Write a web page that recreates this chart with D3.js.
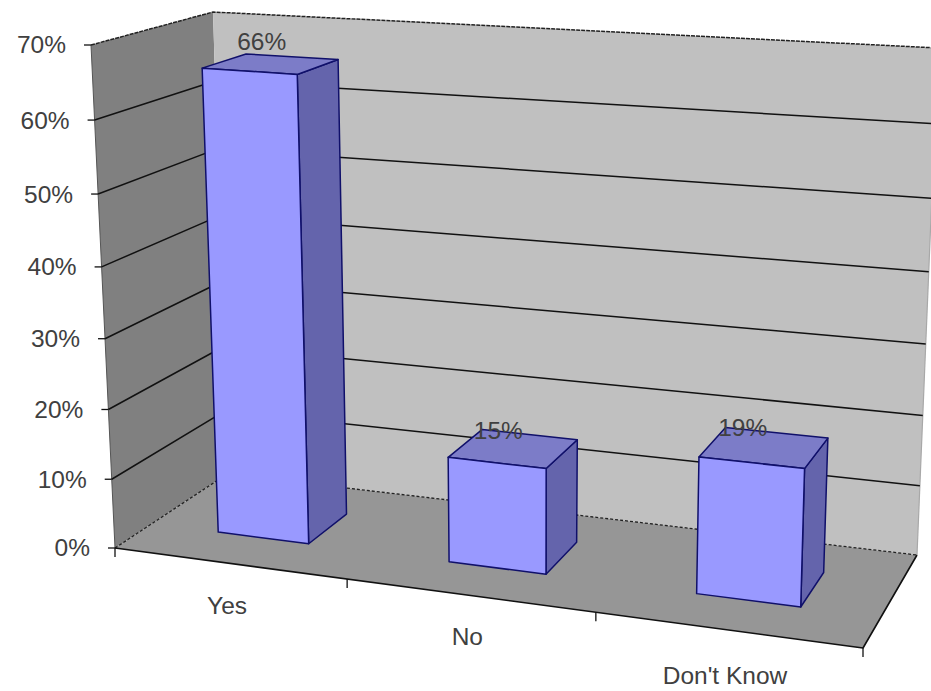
<!DOCTYPE html>
<html>
<head>
<meta charset="utf-8">
<script src="https://cdn.jsdelivr.net/npm/d3@7"></script>
<style>
  html, body { margin: 0; padding: 0; background: #fff; }
  svg { display: block; }
  text { font-family: "Liberation Sans", Arial, sans-serif; font-size: 24.5px; fill: #404040; }
</style>
</head>
<body>
<svg id="chart" width="931" height="691"></svg>
<script>
// Chart values
const categories = ['Yes', 'No', "Don't Know"];
const percents = [66, 15, 19];
const percentTicks = [0, 10, 20, 30, 40, 50, 60, 70];
const maxPercent = 70;

const svg = d3.select('#chart');

// Screen corners of the plot box, named by side: front/back, left/right, bottom/top
const box = {
  flb: [115, 548], frb: [863, 648], blb: [227, 474], brb: [917, 555],
  flt: [91, 45], frt: [881, 100], blt: [213, 12], brt: [938, 48],
};

// Perspective squeeze along an axis running 0..1
const squeeze = (t, d) => (1 + d) * t / (1 + d * t);

const xScale = d3.scaleBand().domain(categories).range([0, 1]).paddingInner(0.6).paddingOuter(0.3);
const yScale = d3.scaleLinear().domain([0, maxPercent]).range([0, 1]);
const barFront = 0.33;
const barBack = 0.71;

// Trilinear lookup of a point inside the box: t along categories, value, depth w
const project = (t, value, w) => {
  const u = squeeze(t, -0.1);
  const v = squeeze(yScale(value), -0.05);
  const mix = (a, b, k) => [a[0] + (b[0] - a[0]) * k, a[1] + (b[1] - a[1]) * k];
  const lower = mix(mix(box.flb, box.frb, u), mix(box.blb, box.brb, u), w);
  const upper = mix(mix(box.flt, box.frt, u), mix(box.blt, box.brt, u), w);
  return mix(lower, upper, v);
};

const line = d3.line();
const face = (pts, fill, stroke, width, dash) => svg.append('path')
  .attr('d', line(pts) + (fill === 'none' ? '' : 'Z'))
  .attr('fill', fill)
  .attr('stroke', stroke || 'none')
  .attr('stroke-width', width || 1)
  .attr('stroke-dasharray', dash || null)
  .attr('stroke-linejoin', 'round');

// Walls and floor
face([project(0, 0, 0), project(0, maxPercent, 0), project(0, maxPercent, 1), project(0, 0, 1)], '#808080');
face([project(0, 0, 1), project(0, maxPercent, 1), project(1, maxPercent, 1), project(1, 0, 1)], '#c0c0c0');
face([project(0, 0, 0), project(1, 0, 0), project(1, 0, 1), project(0, 0, 1)], '#969696');

// Wall outlines
face([project(0, 0, 0), project(0, maxPercent, 0)], 'none', '#555', 1);
face([project(0, maxPercent, 0), project(0, maxPercent, 1), project(1, maxPercent, 1)], 'none', '#222', 1.5, '4 1');
face([project(1, maxPercent, 1), project(1, 0, 1)], 'none', '#a8a8a8', 1.2);
face([project(0, 0, 0), project(0, 0, 1), project(1, 0, 1)], 'none', '#222', 1.3, '3 2');

// Gridlines along both walls, with ticks on the value axis
percentTicks.forEach(tick => {
  const front = project(0, tick, 0);
  face([[front[0] - 7, front[1]], front], 'none', '#111', 1.3);
  svg.append('text')
    .attr('x', front[0] - 25)
    .attr('y', front[1] + 2)
    .attr('text-anchor', 'end')
    .attr('dominant-baseline', 'middle')
    .text(`${tick}%`);
  if (tick > 0 && tick < maxPercent) {
    face([front, project(0, tick, 1), project(1, tick, 1)], 'none', '#111', 1.5);
  }
});

// Front and right floor edges, with category ticks
face([project(0, 0, 0), project(1, 0, 0), project(1, 0, 1)], 'none', '#111', 1.6);
d3.range(categories.length + 1).forEach(i => {
  const p = project(i / categories.length, 0, 0);
  face([p, [p[0], p[1] + 9]], 'none', '#111', 1.3);
});

categories.forEach((name, i) => {
  const value = percents[i];
  const t0 = xScale(name);
  const t1 = t0 + xScale.bandwidth();

  const fl0 = project(t0, 0, barFront), fr0 = project(t1, 0, barFront), br0 = project(t1, 0, barBack);
  const fl1 = project(t0, value, barFront), fr1 = project(t1, value, barFront);
  const br1 = project(t1, value, barBack), bl1 = project(t0, value, barBack);

  face([fr0, br0, br1, fr1], '#6464ac', '#10106a', 1.5);
  face([fl1, fr1, br1, bl1], '#7c7cc8', '#10106a', 1.5);
  face([fl0, fr0, fr1, fl1], '#9999ff', '#10106a', 1.5);
});

// Category names under the floor, the last one sits a bit lower
const nameDrop = [44, 43, 48];
categories.forEach((name, i) => {
  const p = project(xScale(name) + xScale.bandwidth() / 2, 0, 0);
  svg.append('text')
    .attr('x', p[0] - 2)
    .attr('y', p[1] + nameDrop[i])
    .attr('text-anchor', 'middle')
    .attr('dominant-baseline', 'middle')
    .text(name);
});

// Value labels sit near the rear edge of each bar top; taller bars get a little more lift
const labelLift = d3.scaleLinear().domain([15, 66]).range([0, 13]);
categories.forEach((name, i) => {
  const p = project(xScale(name) + xScale.bandwidth() * 0.15, percents[i], barBack);
  svg.append('text')
    .attr('x', p[0] + 2)
    .attr('y', p[1] + 2 - labelLift(percents[i]))
    .attr('text-anchor', 'middle')
    .attr('dominant-baseline', 'middle')
    .text(`${percents[i]}%`);
});
</script>
</body>
</html>
